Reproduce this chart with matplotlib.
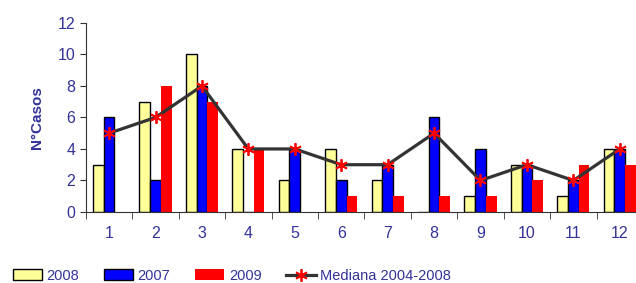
import numpy as np
import matplotlib.pyplot as plt
from matplotlib.patches import Patch
from matplotlib.lines import Line2D

plt.rcParams['font.family'] = ['Liberation Sans', 'DejaVu Sans']

meses = ['1', '2', '3', '4', '5', '6', '7', '8', '9', '10', '11', '12']
casos_2008 = [3, 7, 10, 4, 2, 4, 2, 0, 1, 3, 1, 4]
casos_2007 = [6, 2, 8, 0, 4, 2, 3, 6, 4, 3, 2, 4]
casos_2009 = [0, 8, 7, 4, 0, 1, 1, 1, 1, 2, 3, 3]
mediana = [5, 6, 8, 4, 4, 3, 3, 5, 2, 3, 2, 4]

azul_texto = '#333399'

fig = plt.figure(figsize=(6.36, 2.83), dpi=100)
ax = fig.add_axes([0.135, 0.251, 0.876, 0.668])

x = np.arange(len(meses))
w = 0.23
ax.bar(x - w, casos_2008, w, color='#FFFF99', edgecolor='black', linewidth=1)
ax.bar(x, casos_2007, w, color='#0000FF', edgecolor='black', linewidth=1)
ax.bar(x + w, casos_2009, w, color='#FF0000', linewidth=0)
ax.plot(x, mediana, color='#333333', linewidth=2.3,
        marker=(6, 2, 0), markersize=9, markeredgecolor='#FF0000',
        markeredgewidth=1.3)

ax.set_xlim(-0.5, len(meses) - 0.5)
ax.set_ylim(0, 12)
ax.set_yticks(range(0, 13, 2))
ax.set_xticks(x)
ax.set_xticklabels(meses)
ax.set_xticks(np.arange(-0.5, len(meses), 1), minor=True)
ax.tick_params(axis='x', which='major', length=0, pad=10, labelsize=11.5, labelcolor=azul_texto)
ax.tick_params(axis='x', which='minor', length=5, direction='out', color='#333333')
ax.tick_params(axis='y', length=4, direction='out', labelsize=11.5, labelcolor=azul_texto, color='#333333')
for s in ['top', 'right']:
    ax.spines[s].set_visible(False)
for s in ['left', 'bottom']:
    ax.spines[s].set_color('#333333')
ax.set_ylabel('N°Casos', color=azul_texto, fontweight='bold', fontsize=11, labelpad=10)

handles = [
    Patch(facecolor='#FFFF99', edgecolor='black'),
    Patch(facecolor='#0000FF', edgecolor='black'),
    Patch(facecolor='#FF0000', edgecolor='none'),
    Line2D([0], [0], color='#333333', linewidth=2.3, marker=(6, 2, 0),
           markersize=9, markeredgecolor='#FF0000', markeredgewidth=1.3),
]
fig.legend(handles, ['2008', '2007', '2009', 'Mediana 2004-2008'],
           loc='lower left', bbox_to_anchor=(0.0, -0.045), ncol=4, frameon=False,
           fontsize=10.5, labelcolor=azul_texto, handlelength=2.0, handleheight=0.7,
           handletextpad=0.3, columnspacing=1.7)

fig.savefig('out.png', dpi=100)
